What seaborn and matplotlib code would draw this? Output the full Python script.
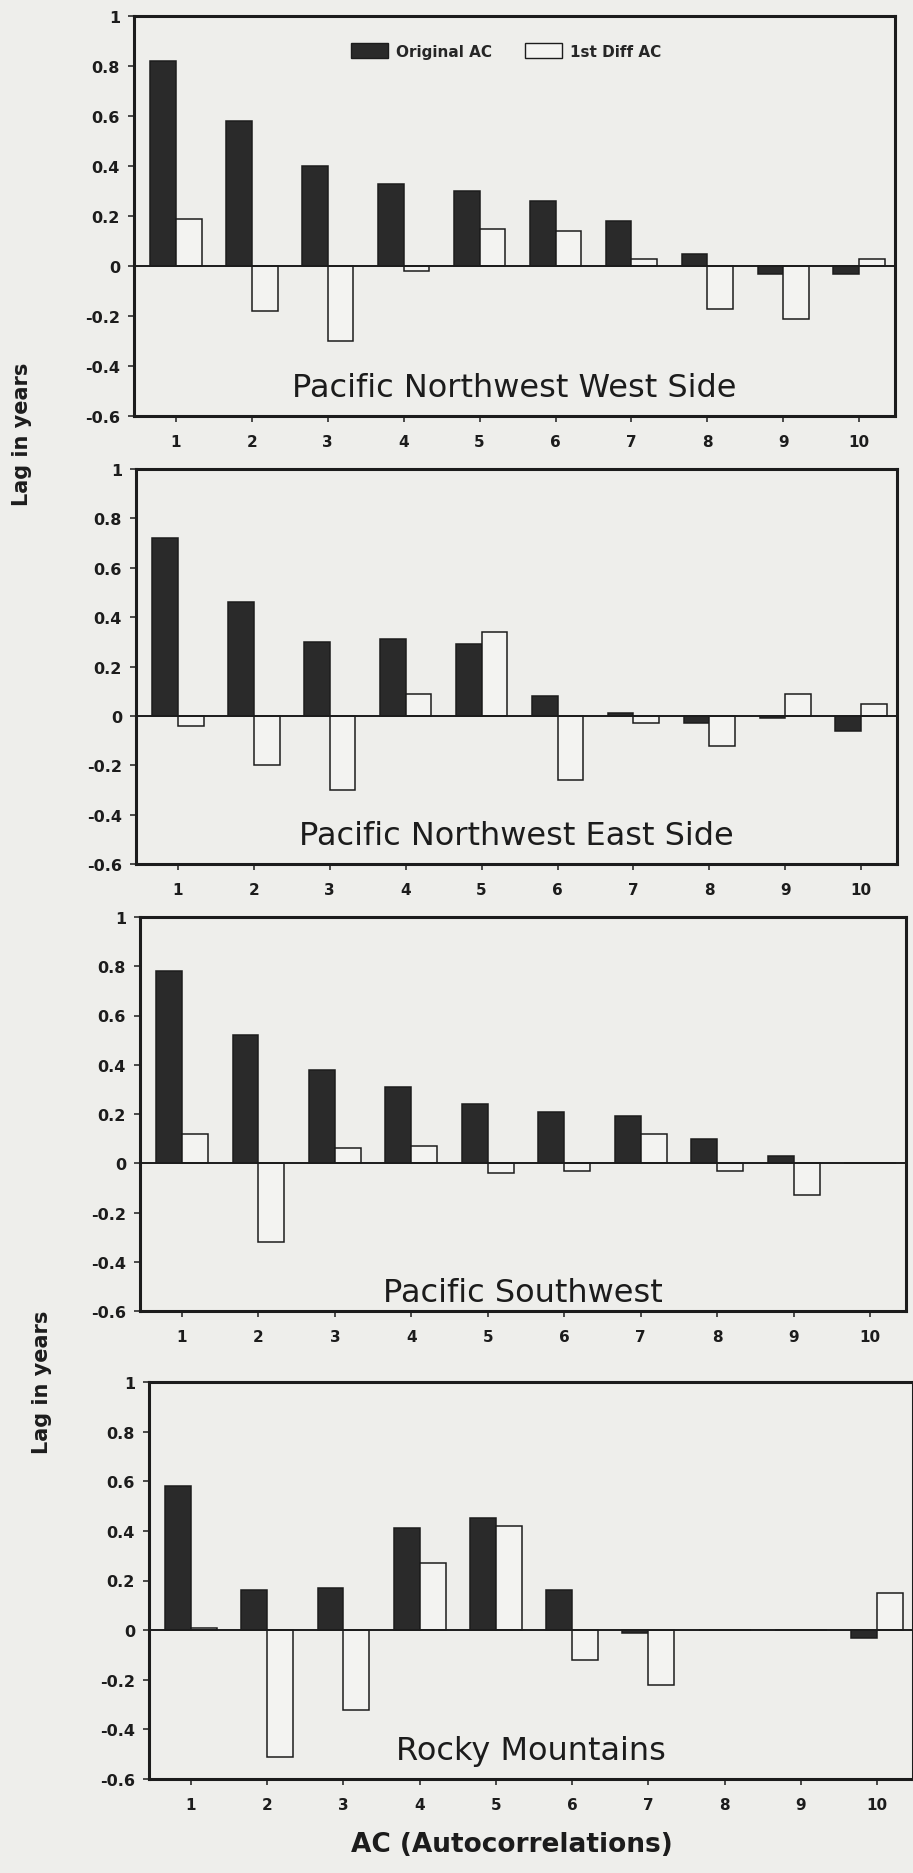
import matplotlib
matplotlib.use("Agg")
import matplotlib.pyplot as plt
import seaborn as sns
import pandas as pd
from matplotlib.patches import Patch

# ---------------- data ----------------
lags = [str(i) for i in range(1, 11)]
series_names = ["Original AC", "1st Diff AC"]
regions = ["Pacific Northwest West Side", "Pacific Northwest East Side",
           "Pacific Southwest", "Rocky Mountains"]

pnw_west_orig = [0.82, 0.58, 0.40, 0.33, 0.30, 0.26, 0.18, 0.05, -0.03, -0.03]
pnw_west_diff = [0.19, -0.18, -0.30, -0.02, 0.15, 0.14, 0.03, -0.17, -0.21, 0.03]

pnw_east_orig = [0.72, 0.46, 0.30, 0.31, 0.29, 0.08, 0.01, -0.03, -0.01, -0.06]
pnw_east_diff = [-0.04, -0.20, -0.30, 0.09, 0.34, -0.26, -0.03, -0.12, 0.09, 0.05]

psw_orig = [0.78, 0.52, 0.38, 0.31, 0.24, 0.21, 0.19, 0.10, 0.03, 0.00]
psw_diff = [0.12, -0.32, 0.06, 0.07, -0.04, -0.03, 0.12, -0.03, -0.13, 0.00]

rocky_orig = [0.58, 0.16, 0.17, 0.41, 0.45, 0.16, -0.01, 0.00, 0.00, -0.03]
rocky_diff = [0.01, -0.51, -0.32, 0.27, 0.42, -0.12, -0.22, 0.00, 0.00, 0.15]

panel_values = [
    (pnw_west_orig, pnw_west_diff),
    (pnw_east_orig, pnw_east_diff),
    (psw_orig, psw_diff),
    (rocky_orig, rocky_diff),
]

y_ticks = [1, 0.8, 0.6, 0.4, 0.2, 0, -0.2, -0.4, -0.6]
y_tick_labels = ["1", "0.8", "0.6", "0.4", "0.2", "0", "-0.2", "-0.4", "-0.6"]

# ---------------- style ----------------
BG = "#eeeeeb"
DARK = "#2a2a2a"
LIGHT = "#f3f3f1"
INK = "#1c1c1c"

sns.set_theme(style="white")
plt.rcParams["font.family"] = ["DejaVu Sans"]

W, H = 913, 1874
fig = plt.figure(figsize=(W / 100, H / 100), dpi=100, facecolor=BG)

# axes boxes in pixels: left, right, top, bottom
boxes = [
    (134, 895, 17, 417),
    (136, 897, 470, 865),
    (140, 906, 918, 1312),
    (149, 913, 1383, 1780),
]
title_frac = [0.05, 0.05, 0.025, 0.05]

palette = {series_names[0]: DARK, series_names[1]: LIGHT}

for i, ((orig, diff), (l, r, t, b)) in enumerate(zip(panel_values, boxes)):
    ax = fig.add_axes([l / W, 1 - b / H, (r - l) / W, (b - t) / H])
    ax.set_facecolor(BG)
    df = pd.DataFrame({
        "lag": lags * 2,
        "series": [series_names[0]] * len(lags) + [series_names[1]] * len(lags),
        "value": list(orig) + list(diff),
    })
    sns.barplot(data=df, x="lag", y="value", hue="series", order=lags,
                hue_order=series_names, palette=palette, width=0.68,
                edgecolor=INK, linewidth=1.1, saturation=1, ax=ax, legend=False)
    ax.axhline(0, color=INK, lw=1.4, zorder=3)
    ax.set_xlim(-0.55, 9.47)
    ax.set_ylim(-0.6, 1.0)
    ax.set_yticks(y_ticks)
    ax.set_yticklabels(y_tick_labels, fontsize=11.5, fontweight="bold", color=INK)
    for lab in ax.get_xticklabels():
        lab.set_fontweight("bold")
        lab.set_fontsize(11)
        lab.set_color(INK)
    ax.tick_params(axis="both", direction="out", length=4, width=1.1, color=INK,
                   left=True, bottom=True)
    ax.tick_params(axis="y", pad=6)
    ax.tick_params(axis="x", pad=9)
    ax.set_xlabel("")
    ax.set_ylabel("")
    for sp in ax.spines.values():
        sp.set_visible(True)
        sp.set_color(INK)
        sp.set_linewidth(2.2)
    ax.text(0.5, title_frac[i], regions[i], transform=ax.transAxes,
            ha="center", va="baseline", fontsize=23, color=INK)
    if i == 0:
        handles = [Patch(facecolor=DARK, edgecolor=INK, lw=1.0, label=series_names[0]),
                   Patch(facecolor=LIGHT, edgecolor=INK, lw=1.0, label=series_names[1])]
        ax.legend(handles=handles, loc="center", bbox_to_anchor=(0.489, 0.912),
                  ncol=2, frameon=False, handlelength=2.4, handleheight=1.1,
                  handletextpad=0.5, columnspacing=2.2,
                  prop={"weight": "bold", "size": 11})

fig.text(22 / W, 1 - 434 / H, "Lag in years", rotation=90, ha="center", va="center",
         fontsize=15, fontweight="bold", color=INK)
fig.text(42 / W, 1 - 1382 / H, "Lag in years", rotation=90, ha="center", va="center",
         fontsize=15, fontweight="bold", color=INK)
fig.text(512 / W, 1 - 1845 / H, "AC (Autocorrelations)", ha="center", va="center",
         fontsize=19, fontweight="bold", color=INK)

fig.savefig("out.png", dpi=100, facecolor=BG)
